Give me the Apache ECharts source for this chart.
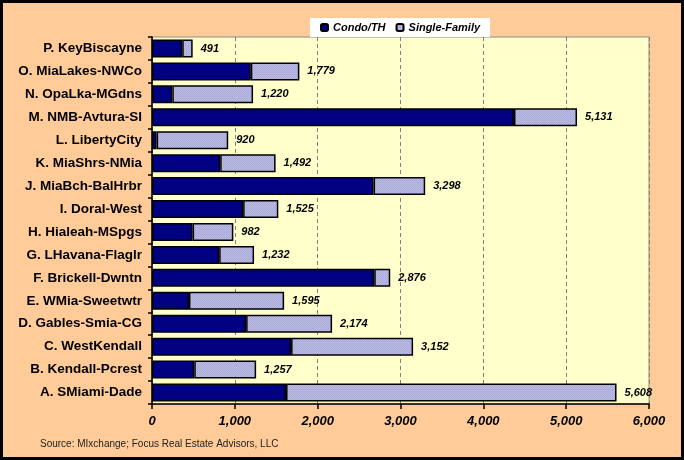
<!DOCTYPE html>
<html>
<head>
<meta charset="utf-8">
<script src="https://cdn.jsdelivr.net/npm/echarts@6/dist/echarts.min.js"></script>
<style>
  html, body { margin: 0; padding: 0; background: #FFCC99; }
  #chart { width: 684px; height: 460px; }
</style>
</head>
<body>
<div id="chart"></div>
<script>
// Sales by area, split into condo/townhouse and single-family
const areas = [
  'A. SMiami-Dade', 'B. Kendall-Pcrest', 'C. WestKendall', 'D. Gables-Smia-CG',
  'E. WMia-Sweetwtr', 'F. Brickell-Dwntn', 'G. LHavana-Flaglr', 'H. Hialeah-MSpgs',
  'I. Doral-West', 'J. MiaBch-BalHrbr', 'K. MiaShrs-NMia', 'L. LibertyCity',
  'M. NMB-Avtura-SI', 'N. OpaLka-MGdns', 'O. MiaLakes-NWCo', 'P. KeyBiscayne'
];
const condoTH = [1618, 510, 1679, 1136, 446, 2683, 811, 490, 1100, 2675, 823, 56, 4370, 245, 1193, 365];
const totals  = [5608, 1257, 3152, 2174, 1595, 2876, 1232, 982, 1525, 3298, 1492, 920, 5131, 1220, 1779, 491];
const singleFamily = totals.map((t, i) => t - condoTH[i]);
const xTicks = [0, 1000, 2000, 3000, 4000, 5000, 6000];

const fmt = v => v.toLocaleString('en-US');

// Fine dotted fill for the single-family segments
const dots = document.createElement('canvas');
dots.width = 2; dots.height = 2;
const dctx = dots.getContext('2d');
dctx.fillStyle = '#BCBCE6';
dctx.fillRect(0, 0, 2, 2);
dctx.fillStyle = '#A9A9D6';
dctx.fillRect(0, 0, 1, 1);
dctx.fillRect(1, 1, 1, 1);

const chart = echarts.init(document.getElementById('chart'), null, { renderer: 'canvas' });
const font = 'Arial, "Liberation Sans", sans-serif';

chart.setOption({
  backgroundColor: '#FFCC99',
  animation: false,
  textStyle: { fontFamily: font },
  grid: {
    left: 152, right: 35, top: 37, bottom: 56,
    show: true, backgroundColor: '#FFFFCC', borderColor: '#8c8c8c', borderWidth: 1
  },
  legend: {
    left: 310, top: 18,
    padding: [4, 10, 4, 10],
    backgroundColor: '#ffffff',
    itemWidth: 7, itemHeight: 7, itemGap: 10,
    textStyle: { fontSize: 11, fontWeight: 'bold', fontStyle: 'italic', color: '#000', fontFamily: font },
    data: ['Condo/TH', 'Single-Family']
  },
  xAxis: {
    type: 'value',
    min: xTicks[0], max: xTicks[xTicks.length - 1], interval: 1000,
    axisLine: { show: true, lineStyle: { color: '#000', width: 1.5 } },
    axisTick: { show: true, length: 5, lineStyle: { color: '#000', width: 1.5 } },
    axisLabel: {
      margin: 11, fontSize: 13, fontWeight: 'bold', fontStyle: 'italic', color: '#000',
      formatter: v => fmt(v)
    },
    splitLine: { show: true, lineStyle: { color: '#808080', type: [4, 3], width: 1 } }
  },
  yAxis: {
    type: 'category',
    data: areas,
    axisLine: { show: true, lineStyle: { color: '#000', width: 1.5 } },
    axisTick: { show: true, length: 4, lineStyle: { color: '#000', width: 1.5 } },
    axisLabel: { margin: 10, fontSize: 13.5, fontWeight: 'bold', color: '#000' },
    splitLine: { show: false }
  },
  series: [
    {
      name: 'Condo/TH', type: 'bar', stack: 'sales',
      barWidth: 18,
      itemStyle: { color: '#000080', borderColor: '#000', borderWidth: 1.5 },
      data: condoTH
    },
    {
      name: 'Single-Family', type: 'bar', stack: 'sales',
      barWidth: 18,
      itemStyle: { color: { image: dots, repeat: 'repeat' }, borderColor: '#000', borderWidth: 1.5 },
      label: {
        show: true, position: 'right', distance: 8,
        fontSize: 11, fontWeight: 'bold', fontStyle: 'italic', color: '#000',
        formatter: p => fmt(totals[p.dataIndex])
      },
      data: singleFamily
    }
  ],
  graphic: [
    {
      type: 'text', left: 40, top: 439,
      style: { text: 'Source: MIxchange; Focus Real Estate Advisors, LLC', fontSize: 10, fill: '#222', font: '10px ' + font }
    },
    {
      type: 'rect', z: 100, silent: true,
      shape: { x: 1.5, y: 1.5, width: 681, height: 457 },
      style: { fill: 'none', stroke: '#000', lineWidth: 3 }
    }
  ]
});
</script>
</body>
</html>
